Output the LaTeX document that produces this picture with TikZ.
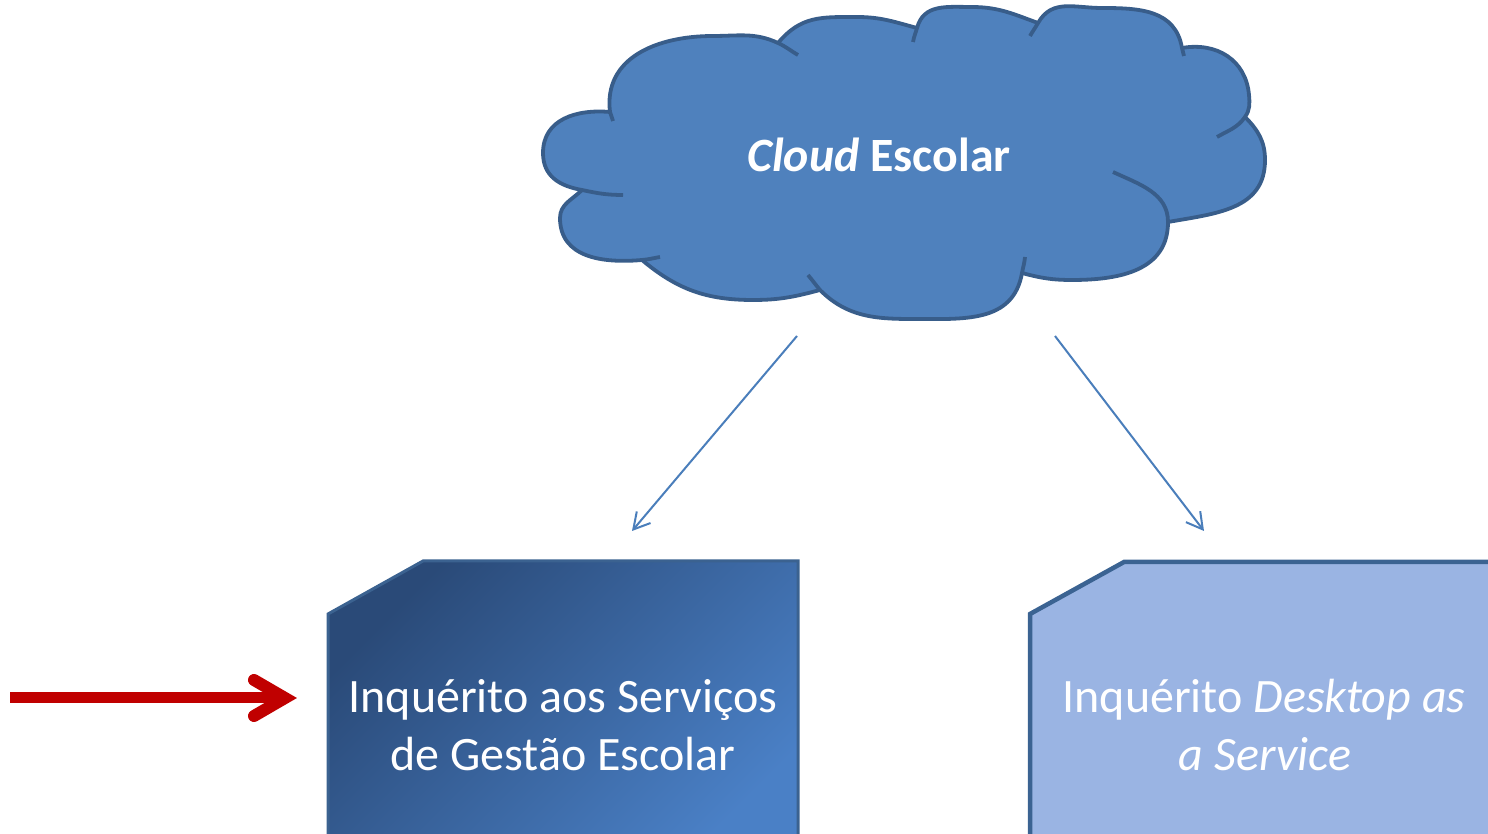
\documentclass[tikz,border=0pt]{standalone}
\usepackage{fontspec}
\setmainfont{Carlito}
\usetikzlibrary{arrows.meta,calc}
\definecolor{cloudfill}{RGB}{79,129,189}
\definecolor{cloudline}{RGB}{56,93,138}
\definecolor{arrowblue}{RGB}{74,126,187}
\definecolor{lboxdark}{RGB}{42,74,120}
\definecolor{lboxlight}{RGB}{74,128,198}
\definecolor{lboxline}{RGB}{59,98,144}
\definecolor{rboxfill}{RGB}{154,180,227}
\definecolor{rboxline}{RGB}{59,99,146}
\definecolor{redarrow}{RGB}{192,0,0}
\tikzset{
  cloudshape/.style={fill=cloudfill, draw=cloudline, line width=3.8bp, line join=round},
  cloudtick/.style={draw=cloudline, line width=3.8bp, line cap=butt},
  leftbox/.style={draw=lboxline, line width=3bp, top color=lboxdark, bottom color=lboxlight, shading angle=45},
  rightbox/.style={draw=rboxline, line width=4.5bp, fill=rboxfill},
  boxtext/.style={text=white, inner sep=0pt, anchor=base, font=\fontsize{48bp}{57bp}\selectfont},
  cloudtext/.style={text=white, inner sep=0pt, anchor=base, font=\fontsize{47.8bp}{56bp}\selectfont\bfseries},
  bluearrow/.style={draw=arrowblue, line width=2bp, -{Straight Barb[length=16bp,width=18bp,line width=2bp]}},
  redshaft/.style={draw=redarrow, line width=11bp, line cap=butt},
  redhead/.style={draw=redarrow, line width=12bp, line cap=round, line join=miter}
}
\begin{document}
\begin{tikzpicture}[x=1bp,y=1bp]
\useasboundingbox (0,0) rectangle (1488,833);
\clip (0,0) rectangle (1488,833);
% cloud
\path[cloudshape] (610,721)
  to[out=97,in=180,looseness=1.1] (713,797)
  to[out=0,in=155] (778,790)
  to[out=50,in=180,looseness=1.1] (857,816)
  to[out=0,in=165] (917,805)
  to[out=75,in=180,looseness=1.1] (972,826)
  to[out=0,in=160] (1038,810)
  to[out=60,in=180,looseness=1.1] (1102,825)
  to[out=0,in=100,looseness=1.1] (1182,785)
  to[out=10,in=95,looseness=1.1] (1249,738)
  to[out=-85,in=55] (1245,716)
  to[out=-45,in=90] (1265,673)
  to[out=-90,in=10,looseness=1.1] (1168,611)
  to[out=-90,in=0,looseness=1.1] (1072,553)
  to[out=180,in=-15] (1022,560)
  to[out=-100,in=0,looseness=1.1] (912,514)
  to[out=180,in=-45] (820,543)
  to[out=-165,in=0] (753,533)
  to[out=180,in=-40] (642,573)
  to[out=185,in=-90,looseness=1.1] (560,615)
  to[out=90,in=-135] (582,643)
  to[out=170,in=-90,looseness=1.1] (543,680)
  to[out=90,in=175,looseness=1.1] (610,721)
  -- cycle;
\draw[cloudtick] (610,721) to[out=-83,in=95] (613,712);
\draw[cloudtick] (778,790) to[out=-25,in=150] (798,778);
\draw[cloudtick] (917,805) to[out=-105,in=80] (913,791);
\draw[cloudtick] (1038,810) to[out=-120,in=60] (1030,797);
\draw[cloudtick] (1182,785) to[out=-80,in=100] (1184,777);
\draw[cloudtick] (1245,716) to[out=-125,in=30] (1217,696);
\draw[cloudtick] (1113,661) to[out=-25,in=90] (1168,611);
\draw[cloudtick] (1022,560) to[out=80,in=-95] (1025,576);
\draw[cloudtick] (820,543) to[out=130,in=-50] (808,558);
\draw[cloudtick] (642,573) to[out=5,in=190] (660,576);
\draw[cloudtick] (582,643) to[out=-12,in=180] (623,638);
\node[cloudtext] (cloudlabel) at (879,661) {\itshape Cloud\upshape{} Escolar};
% boxes
\path[leftbox] (423,272) -- (798,272) -- (798,-30) -- (328,-30) -- (328,219) -- cycle;
\path[rightbox] (1124,271) -- (1530,271) -- (1530,-30) -- (1030,-30) -- (1030,219) -- cycle;
\node[boxtext] (lline1) at (563,120) {Inquérito aos Serviços};
\node[boxtext] (lline2) at (563,63) {de Gestão Escolar};
\node[boxtext] (rline1) at (1264,120) {Inquérito \itshape Desktop as};
\node[boxtext] (rline2) at (1265,63) {\itshape a Service};
% blue arrows
\coordinate (cloudL) at (797,497);
\coordinate (boxLtop) at (632,302);
\coordinate (cloudR) at (1055,497);
\coordinate (boxRtop) at (1204,302);
\draw[bluearrow] (cloudL) -- (boxLtop);
\draw[bluearrow] (cloudR) -- (boxRtop);
% red arrow
\coordinate (redstart) at (10,135);
\coordinate (redtip) at (285,135);
\coordinate (redarmA) at (254,153);
\coordinate (redarmB) at (254,117);
\draw[redshaft] (redstart) -- ($(redtip)+(-8,0)$);
\draw[redhead] (redarmA) -- (redtip) -- (redarmB);
\end{tikzpicture}
\end{document}
